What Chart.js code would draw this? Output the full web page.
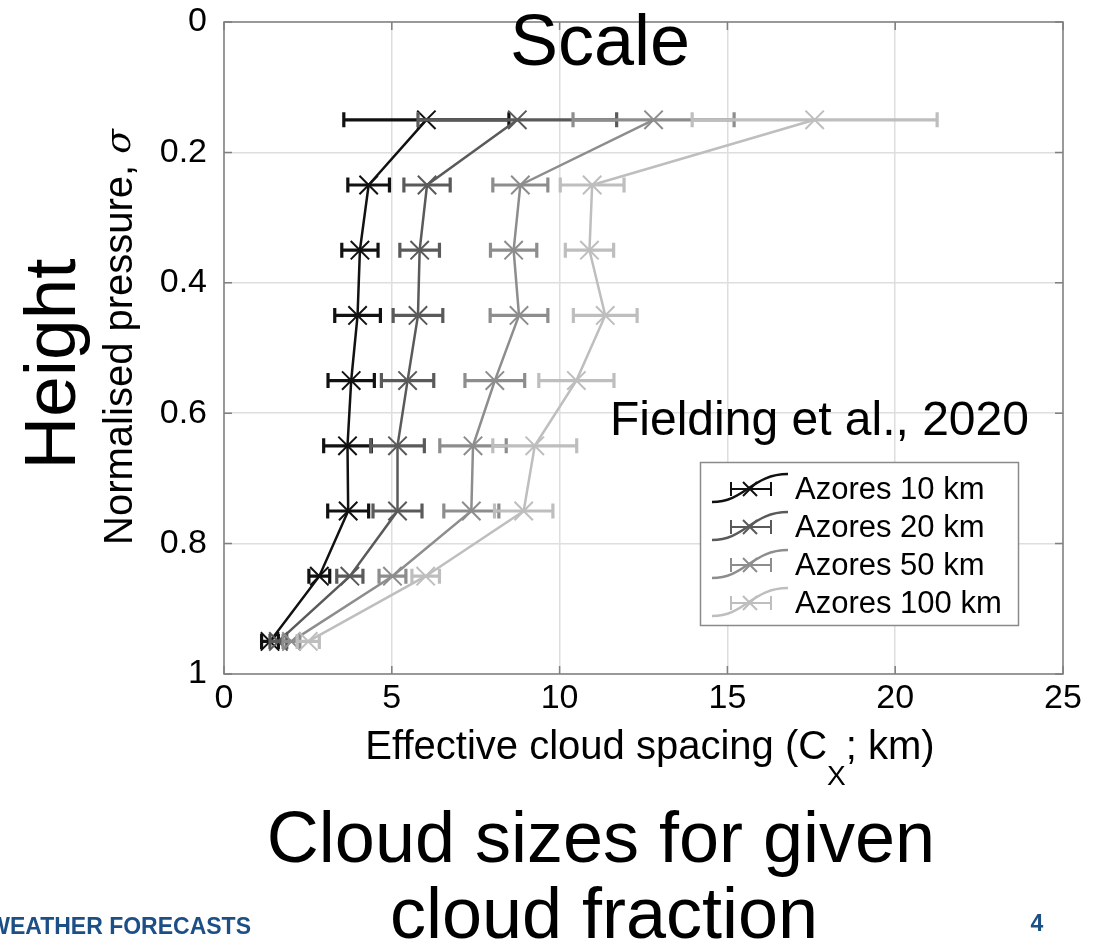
<!DOCTYPE html>
<html>
<head>
<meta charset="utf-8">
<script src="https://cdn.jsdelivr.net/npm/chart.js@4.4.1/dist/chart.umd.min.js"></script>
<style>
  html, body { margin: 0; padding: 0; background: #fff; overflow: hidden; }
  canvas { display: block; }
</style>
</head>
<body>
<canvas id="c" width="1109" height="950"></canvas>
<script>
// Normalised pressure levels (sigma) of each profile point
const levels = [0.15, 0.25, 0.35, 0.45, 0.55, 0.65, 0.75, 0.85, 0.95];

// Effective cloud spacing (km) and its spread, per domain size
const azores10 = [6.03, 4.31, 4.05, 3.98, 3.79, 3.68, 3.70, 2.84, 1.37];
const azores10Err = [2.46, 0.62, 0.54, 0.68, 0.69, 0.71, 0.61, 0.31, 0.25];
const azores20 = [8.74, 6.05, 5.83, 5.78, 5.47, 5.17, 5.17, 3.75, 1.62];
const azores20Err = [2.96, 0.69, 0.59, 0.74, 0.78, 0.80, 0.73, 0.39, 0.25];
const azores50 = [12.8, 8.83, 8.63, 8.79, 8.07, 7.42, 7.37, 5.02, 2.01];
const azores50Err = [2.40, 0.82, 0.69, 0.86, 0.89, 0.99, 0.82, 0.40, 0.25];
const azores100 = [17.6, 10.97, 10.89, 11.36, 10.50, 9.26, 8.93, 6.01, 2.51];
const azores100Err = [3.65, 0.95, 0.72, 0.95, 1.12, 1.25, 0.87, 0.41, 0.33];

const seriesLabels = ['Azores 10 km', 'Azores 20 km', 'Azores 50 km', 'Azores 100 km'];
const xTickLabels = ['0', '5', '10', '15', '20', '25'];
const yTickLabels = ['0', '0.2', '0.4', '0.6', '0.8', '1'];

const FONT = '"Liberation Sans", Arial, Helvetica, sans-serif';
const colors = ['#111111', '#5a5a5a', '#8d8d8d', '#bebebe'];

const values = [azores10, azores20, azores50, azores100];
const spreads = [azores10Err, azores20Err, azores50Err, azores100Err];

function points(xs) {
  return xs.map((v, i) => ({ x: v, y: levels[i] }));
}

const datasets = values.map((vals, k) => ({
  label: seriesLabels[k],
  data: points(vals),
  errors: spreads[k],
  borderColor: colors[k],
  backgroundColor: colors[k],
  borderWidth: 2.5,
  pointStyle: 'crossRot',
  pointRadius: 13,
  pointBorderWidth: 2,
  pointBorderColor: colors[k],
  tension: 0,
  fill: false,
  order: 4 - k
}));

// Horizontal error bars, drawn just under each profile line
const errorBars = {
  id: 'errorBars',
  beforeDatasetDraw(chart, args) {
    const ds = chart.data.datasets[args.index];
    const xs = chart.scales.x, ys = chart.scales.y;
    const ctx = chart.ctx;
    ctx.save();
    ctx.strokeStyle = ds.borderColor;
    ctx.lineWidth = 3.2;
    ctx.lineCap = 'butt';
    ds.data.forEach((p, i) => {
      const e = ds.errors[i];
      const xl = xs.getPixelForValue(p.x - e);
      const xr = xs.getPixelForValue(p.x + e);
      const y = ys.getPixelForValue(p.y);
      ctx.beginPath();
      ctx.moveTo(xl, y); ctx.lineTo(xr, y);
      ctx.moveTo(xl, y - 7.5); ctx.lineTo(xl, y + 7.5);
      ctx.moveTo(xr, y - 7.5); ctx.lineTo(xr, y + 7.5);
      ctx.stroke();
    });
    ctx.restore();
  }
};

// Axes box with inward tick marks
const frame = {
  id: 'frame',
  beforeDatasetsDraw(chart) {
    const { ctx, chartArea: a, scales } = chart;
    ctx.save();
    ctx.strokeStyle = '#808080';
    ctx.lineWidth = 1.5;
    ctx.strokeRect(a.left, a.top, a.right - a.left, a.bottom - a.top);
    ctx.beginPath();
    scales.x.ticks.forEach((t) => {
      const x = scales.x.getPixelForValue(t.value);
      ctx.moveTo(x, a.bottom); ctx.lineTo(x, a.bottom - 8);
      ctx.moveTo(x, a.top); ctx.lineTo(x, a.top + 8);
    });
    scales.y.ticks.forEach((t) => {
      const y = scales.y.getPixelForValue(t.value);
      ctx.moveTo(a.left, y); ctx.lineTo(a.left + 8, y);
      ctx.moveTo(a.right, y); ctx.lineTo(a.right - 8, y);
    });
    ctx.stroke();
    ctx.restore();
  }
};

// Legend box, axis titles and slide captions
const decorations = {
  id: 'decorations',
  afterDraw(chart) {
    const ctx = chart.ctx;
    ctx.save();

    // legend
    const lx = 700.5, ly = 462.5, lw = 318, lh = 163;
    ctx.fillStyle = '#ffffff';
    ctx.fillRect(lx, ly, lw, lh);
    ctx.strokeStyle = '#8a8a8a';
    ctx.lineWidth = 1.5;
    ctx.strokeRect(lx, ly, lw, lh);
    chart.data.datasets.forEach((ds, i) => {
      const r = 489 + i * 38;
      ctx.strokeStyle = ds.borderColor;
      ctx.lineWidth = 2.5;
      ctx.beginPath();
      ctx.moveTo(712, r + 13);
      ctx.bezierCurveTo(745, r + 13, 752, r - 15, 788, r - 15);
      ctx.stroke();
      ctx.lineWidth = 2;
      ctx.beginPath();
      ctx.moveTo(731, r); ctx.lineTo(771, r);
      ctx.moveTo(731, r - 7); ctx.lineTo(731, r + 7);
      ctx.moveTo(771, r - 7); ctx.lineTo(771, r + 7);
      ctx.moveTo(743, r - 7); ctx.lineTo(757, r + 7);
      ctx.moveTo(743, r + 7); ctx.lineTo(757, r - 7);
      ctx.stroke();
      ctx.fillStyle = '#000';
      ctx.font = '31px ' + FONT;
      ctx.textAlign = 'left';
      ctx.textBaseline = 'middle';
      ctx.fillText(ds.label, 795, r + 1);
    });

    ctx.fillStyle = '#000';
    ctx.textBaseline = 'alphabetic';

    // x-axis title with subscript
    const part1 = 'Effective cloud spacing (C';
    const part3 = '; km)';
    ctx.font = '40px ' + FONT;
    const w1 = ctx.measureText(part1).width;
    const w3 = ctx.measureText(part3).width;
    ctx.font = '28px ' + FONT;
    const w2 = ctx.measureText('X').width;
    const x0 = 650 - (w1 + w2 + w3) / 2;
    ctx.textAlign = 'left';
    ctx.font = '40px ' + FONT;
    ctx.fillText(part1, x0, 759);
    ctx.font = '28px ' + FONT;
    ctx.fillText('X', x0 + w1, 785);
    ctx.font = '40px ' + FONT;
    ctx.fillText(part3, x0 + w1 + w2, 759);

    // y-axis title, rotated
    ctx.save();
    ctx.translate(132, 337);
    ctx.rotate(-Math.PI / 2);
    ctx.font = '40px ' + FONT;
    const ya = 'Normalised pressure, ';
    const yaw = ctx.measureText(ya).width;
    ctx.font = 'italic 36px "DejaVu Serif", "Liberation Serif", serif';
    const sw = ctx.measureText('\u03c3').width;
    const st = -(yaw + sw) / 2;
    ctx.font = '40px ' + FONT;
    ctx.fillText(ya, st, 0);
    ctx.font = 'italic 36px "DejaVu Serif", "Liberation Serif", serif';
    ctx.fillText('\u03c3', st + yaw, -2);
    ctx.restore();

    // "Height"
    ctx.save();
    ctx.translate(75, 364);
    ctx.rotate(-Math.PI / 2);
    ctx.textAlign = 'center';
    ctx.font = '73px ' + FONT;
    ctx.fillText('Height', 0, 0);
    ctx.restore();

    ctx.textAlign = 'center';
    ctx.font = '72px ' + FONT;
    ctx.fillText('Scale', 600, 65);
    ctx.fillText('Cloud sizes for given', 601, 862);
    ctx.fillText('cloud fraction', 604, 938);

    ctx.textAlign = 'left';
    ctx.font = '48px ' + FONT;
    ctx.fillText('Fielding et al., 2020', 610, 435);

    ctx.fillStyle = '#1c4f86';
    ctx.font = 'bold 23px ' + FONT;
    ctx.textAlign = 'right';
    ctx.fillText('WEATHER FORECASTS', 251, 934);
    ctx.textAlign = 'center';
    ctx.fillText('4', 1037, 931);

    ctx.restore();
  }
};

new Chart(document.getElementById('c'), {
  type: 'line',
  data: { datasets },
  options: {
    responsive: false,
    animation: false,
    events: [],
    layout: { padding: { left: 0, top: 22, right: 46, bottom: 216 } },
    plugins: {
      legend: { display: false },
      tooltip: { enabled: false },
      title: { display: false }
    },
    scales: {
      x: {
        type: 'linear',
        min: 0, max: 25,
        afterFit(scale) {
          scale.height = 60;
          scale.paddingLeft = 0;
          scale.paddingRight = 0;
        },
        grid: { color: '#dedede', lineWidth: 1.5, drawTicks: false },
        border: { display: false },
        ticks: {
          stepSize: 5,
          padding: 4,
          color: '#000',
          font: { family: FONT, size: 34 },
          maxRotation: 0,
          callback: (v) => xTickLabels[Math.round(v / 5)]
        }
      },
      y: {
        type: 'linear',
        reverse: true,
        min: 0, max: 1,
        afterFit(scale) {
          scale.width = 224;
          scale.paddingTop = 0;
          scale.paddingBottom = 0;
        },
        grid: { color: '#dedede', lineWidth: 1.5, drawTicks: false },
        border: { display: false },
        ticks: {
          stepSize: 0.2,
          padding: 17,
          color: '#000',
          font: { family: FONT, size: 34 },
          callback: (v) => yTickLabels[Math.round(v * 5)]
        }
      }
    }
  },
  plugins: [errorBars, frame, decorations]
});
</script>
</body>
</html>
